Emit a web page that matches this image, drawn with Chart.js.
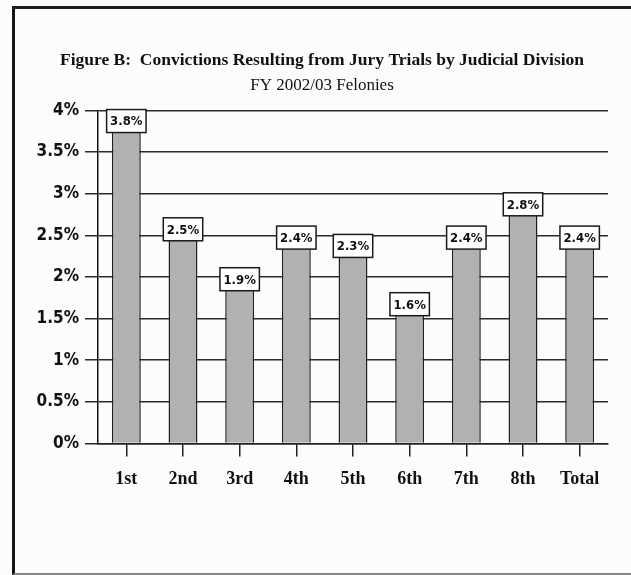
<!DOCTYPE html>
<html>
<head>
<meta charset="utf-8">
<script src="https://cdn.jsdelivr.net/npm/chart.js@4/dist/chart.umd.min.js"></script>
<style>
  html, body { margin: 0; padding: 0; background: #fcfcfc; overflow: hidden; }
  #frame {
    position: absolute; left: 12px; top: 6px; width: 630px; height: 564px;
    border-left: 3px solid #151515; border-top: 3px solid #1c1c1c; border-bottom: 2px solid #888;
  }
  #wrap { position: absolute; left: 0; top: 0; width: 644px; height: 575px; }
</style>
</head>
<body>
<div id="frame"></div>
<div id="wrap"><canvas id="chart"></canvas></div>
<script>
const divisions = ["1st", "2nd", "3rd", "4th", "5th", "6th", "7th", "8th", "Total"];
const convictionRates = [3.8, 2.5, 1.9, 2.4, 2.3, 1.6, 2.4, 2.8, 2.4];
const titleText = "Figure B:  Convictions Resulting from Jury Trials by Judicial Division";
const subtitleText = "FY 2002/03 Felonies";

// boxed value labels above each bar
const boxLabels = {
  id: "boxLabels",
  afterDatasetsDraw(chart) {
    const ctx = chart.ctx;
    const meta = chart.getDatasetMeta(0);
    ctx.save();
    ctx.font = "bold 13px 'DejaVu Sans Condensed', 'DejaVu Sans', sans-serif";
    ctx.textAlign = "center";
    ctx.textBaseline = "middle";
    meta.data.forEach((bar, i) => {
      const txt = convictionRates[i].toFixed(1) + "%";
      const w = ctx.measureText(txt).width + 7;
      const h = 23;
      const cy = bar.y - 6;
      ctx.fillStyle = "#ffffff";
      ctx.fillRect(bar.x - w / 2, cy - h / 2, w, h);
      ctx.lineWidth = 1.5;
      ctx.strokeStyle = "#1a1a1a";
      ctx.strokeRect(bar.x - w / 2, cy - h / 2, w, h);
      ctx.fillStyle = "#111";
      ctx.fillText(txt, bar.x, cy + 1);
    });
    ctx.restore();
  },
};

new Chart(document.getElementById("chart"), {
  type: "bar",
  data: {
    labels: divisions,
    datasets: [
      {
        data: convictionRates,
        backgroundColor: "#b1b1b1",
        borderColor: "#1e1e1e",
        borderWidth: 1.5,
        barPercentage: 0.51,
        categoryPercentage: 1,
      },
    ],
  },
  options: {
    responsive: true,
    maintainAspectRatio: false,
    animation: false,
    layout: { padding: { left: 0, right: 0, top: 0, bottom: 73 } },
    plugins: {
      legend: { display: false },
      tooltip: { enabled: false },
      title: {
        display: true,
        text: titleText,
        color: "#111",
        font: { family: "'Liberation Serif', 'Times New Roman', serif", size: 17.5, weight: "bold" },
        padding: { top: 50, bottom: 3 },
      },
      subtitle: {
        display: true,
        text: subtitleText,
        color: "#111",
        font: { family: "'Liberation Serif', 'Times New Roman', serif", size: 17 },
        padding: { top: 1, bottom: 15 },
      },
    },
    scales: {
      x: {
        grid: {
          drawOnChartArea: false,
          offset: false,
          tickLength: 13,
          color: "#222",
          lineWidth: 1.5,
        },
        border: { display: true, color: "#222", width: 1.5 },
        ticks: {
          color: "#111",
          padding: 12,
          font: { family: "'Liberation Serif', 'Times New Roman', serif", size: 18, weight: "bold" },
        },
      },
      y: {
        min: 0,
        max: 4,
        afterFit(scale) { scale.width = 98; },
        grid: { color: "#2a2a2a", lineWidth: 1.5, tickLength: 13 },
        border: { display: true, color: "#111", width: 1.5 },
        ticks: {
          stepSize: 0.5,
          padding: 6,
          color: "#111",
          font: { family: "'DejaVu Sans Condensed', 'DejaVu Sans', sans-serif", size: 17, weight: "bold" },
          callback: (v) => v + "%",
        },
      },
      // empty right-hand spacer so the plot ends where the reference does
      yRight: {
        position: "right",
        min: 0,
        max: 4,
        afterFit(scale) { scale.width = 36; },
        grid: { display: false },
        border: { display: false },
        ticks: { display: false },
      },
    },
  },
  plugins: [boxLabels],
});
</script>
</body>
</html>
